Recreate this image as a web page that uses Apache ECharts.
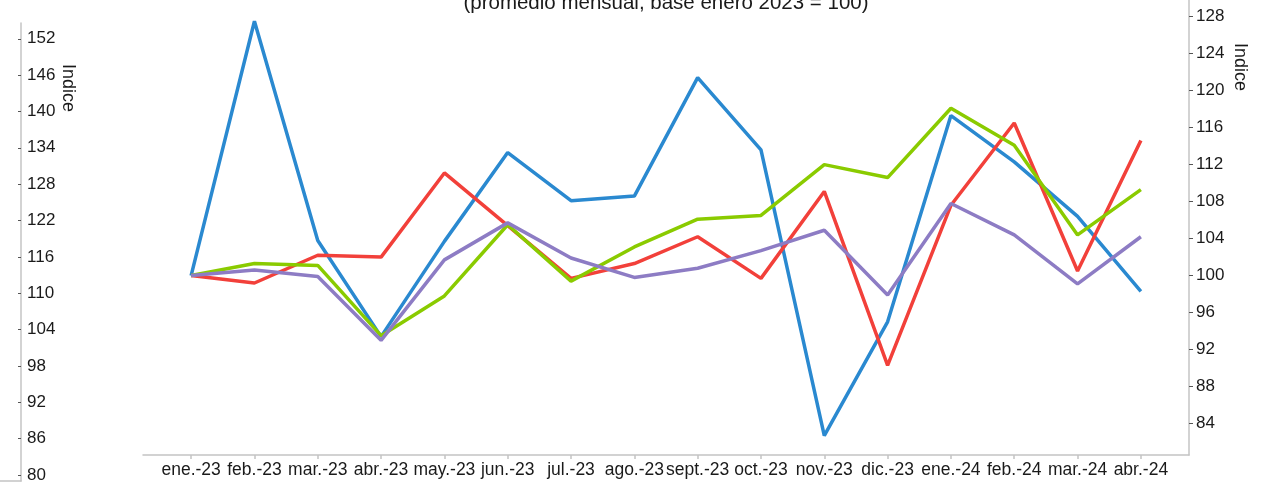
<!DOCTYPE html>
<html>
<head>
<meta charset="utf-8">
<script src="https://cdn.jsdelivr.net/npm/echarts@6/dist/echarts.min.js"></script>
<style>
  html, body { margin: 0; padding: 0; background: #fff; }
  #chart { width: 1271px; height: 482px; }
</style>
</head>
<body>
<div id="chart"></div>
<script>
// meses
const categories = ['ene.-23', 'feb.-23', 'mar.-23', 'abr.-23', 'may.-23', 'jun.-23', 'jul.-23', 'ago.-23',
  'sept.-23', 'oct.-23', 'nov.-23', 'dic.-23', 'ene.-24', 'feb.-24', 'mar.-24', 'abr.-24'];

// series (base enero 2023 = 100)
const blueValues = [100, 127.5, 103.8, 93.4, 103.7, 113.3, 108.1, 108.6, 121.4, 113.6, 82.7, 95.0, 117.3, 112.3, 106.4, 98.3];
const redValues = [100, 99.2, 102.2, 102.0, 111.1, 105.4, 99.7, 101.3, 104.2, 99.7, 109.1, 90.3, 107.6, 116.5, 100.5, 114.6];
const greenValues = [100, 101.3, 101.1, 93.5, 97.8, 105.5, 99.4, 103.1, 106.1, 106.5, 112.0, 110.6, 118.1, 114.1, 104.4, 109.3];
const purpleValues = [100, 100.6, 99.9, 93.0, 101.7, 105.7, 101.9, 99.8, 100.8, 102.7, 104.9, 97.9, 107.8, 104.4, 99.1, 104.2];

// etiquetas de los ejes
const leftTicks = [80, 86, 92, 98, 104, 110, 116, 122, 128, 134, 140, 146, 152];
const rightTicks = [84, 88, 92, 96, 100, 104, 108, 112, 116, 120, 124, 128];

const axisGray = '#c4c4c4';
const textColor = '#1a1a1a';
const font = 'Liberation Sans, Arial, sans-serif';

function toPoints(values) {
  return values.map((v, i) => [i, v]);
}

function lineSeries(name, values, color) {
  return {
    name: name,
    type: 'line',
    xAxisIndex: 0,
    yAxisIndex: 0,
    data: toPoints(values),
    showSymbol: false,
    symbol: 'none',
    lineStyle: { width: 3.5, color: color },
    itemStyle: { color: color },
  };
}

function rotatedName(x, y) {
  return {
    type: 'text',
    x: x,
    y: y,
    rotation: -Math.PI / 2,
    style: {
      text: 'Indice',
      fontSize: 18,
      fontFamily: font,
      fill: textColor,
      align: 'center',
      verticalAlign: 'middle',
    },
  };
}

const chart = echarts.init(document.getElementById('chart'));

const option = {
  animation: false,
  backgroundColor: '#ffffff',
  textStyle: { fontFamily: font },
  graphic: [
    {
      type: 'text',
      x: 666,
      y: 3,
      style: {
        text: '(promedio mensual, base enero 2023 = 100)',
        fontSize: 20.5,
        fontFamily: font,
        fill: textColor,
        align: 'center',
        verticalAlign: 'middle',
      },
    },
    rotatedName(67.5, 88),
    rotatedName(1239.5, 67),
  ],
  grid: [
    // area principal
    { left: 143, right: 82, top: 0, bottom: 27, outerBoundsMode: 'none' },
    // eje izquierdo suelto
    { left: 0, width: 21, top: 23, bottom: 1, outerBoundsMode: 'none' },
  ],
  xAxis: [
    {
      type: 'value',
      gridIndex: 0,
      min: -0.76,
      max: 15.76,
      splitLine: { show: false },
      axisLine: { show: true, onZero: false, lineStyle: { color: axisGray, width: 1.5 } },
      axisTick: {
        show: true,
        length: 4,
        customValues: categories.map((c, i) => i),
        lineStyle: { color: axisGray, width: 1.5 },
      },
      axisLabel: {
        customValues: categories.map((c, i) => i),
        formatter: (v) => categories[Math.round(v)],
        fontSize: 17.5,
        color: textColor,
        margin: 6,
      },
    },
    {
      type: 'value',
      gridIndex: 1,
      min: 0,
      max: 1,
      splitLine: { show: false },
      axisLine: { show: true, onZero: false, lineStyle: { color: axisGray, width: 1.5 } },
      axisTick: { show: false },
      axisLabel: { show: false },
    },
  ],
  yAxis: [
    {
      type: 'value',
      gridIndex: 0,
      position: 'right',
      min: 80.6,
      max: 129.8,
      splitLine: { show: false },
      axisLine: { show: true, onZero: false, lineStyle: { color: axisGray, width: 1.5 } },
      axisTick: {
        show: true,
        length: 4,
        customValues: rightTicks,
        lineStyle: { color: '#555', width: 1 },
      },
      axisLabel: {
        customValues: rightTicks,
        fontSize: 17,
        color: textColor,
        margin: 7,
      },
    },
    {
      type: 'value',
      gridIndex: 1,
      position: 'right',
      min: 79,
      max: 154.6,
      splitLine: { show: false },
      axisLine: { show: true, onZero: false, lineStyle: { color: axisGray, width: 1.5 } },
      axisTick: {
        show: true,
        inside: true,
        length: 3,
        customValues: leftTicks,
        lineStyle: { color: '#555', width: 1 },
      },
      axisLabel: {
        customValues: leftTicks,
        fontSize: 17,
        color: textColor,
        margin: 6,
      },
    },
  ],
  series: [
    lineSeries('Serie 1', blueValues, '#2a89d0'),
    lineSeries('Serie 2', redValues, '#f2403a'),
    lineSeries('Serie 3', greenValues, '#8acb00'),
    lineSeries('Serie 4', purpleValues, '#8d7cc4'),
  ],
};

chart.setOption(option);
</script>
</body>
</html>
